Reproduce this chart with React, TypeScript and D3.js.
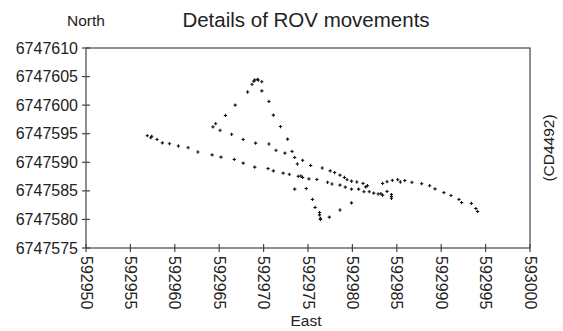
import React, { useRef, useEffect } from 'react';
import * as d3 from 'd3';

// ROV fixes (East, North)
const EAST: number[] = [
  592956.9, 592957.3, 592957.4, 592958.0, 592958.6, 592959.4, 592960.4, 592961.5, 592962.6, 592964.2,
  592965.2, 592966.7, 592967.7, 592969.0, 592970.5, 592971.1, 592972.2, 592972.9, 592973.9, 592974.2,
  592974.4, 592975.1, 592976.0, 592977.2, 592977.7, 592978.6, 592979.2, 592979.9, 592980.7, 592981.3,
  592981.9, 592982.4, 592982.9, 592983.2, 592983.4, 592983.9, 592984.4, 592984.4, 592984.4,
  592983.4, 592983.9, 592984.5, 592985.1, 592985.4, 592985.9, 592986.7, 592987.8, 592988.7, 592989.3,
  592990.3, 592991.1, 592992.0, 592992.3, 592993.4, 592993.9, 592994.1,
  592964.3, 592964.6, 592965.1, 592966.4, 592967.7, 592969.1, 592970.6, 592971.4, 592972.4, 592973.2,
  592973.5, 592973.8, 592974.4, 592975.3, 592976.6, 592977.5, 592978.0, 592978.6, 592979.1, 592979.4,
  592979.9, 592980.5, 592981.2, 592981.5, 592981.7,
  592965.7, 592966.8, 592968.2, 592968.7, 592968.9, 592969.0, 592969.3, 592969.4, 592969.8, 592969.8,
  592970.6, 592971.1, 592971.9, 592972.7,
  592973.5, 592974.8, 592975.5, 592975.8, 592976.3, 592976.3, 592976.4, 592976.4, 592977.4, 592978.6,
  592979.9,
];

const NORTH: number[] = [
  6747594.65, 6747594.3, 6747594.55, 6747594.0, 6747593.4, 6747593.25, 6747592.85, 6747592.55, 6747591.8, 6747591.3,
  6747590.9, 6747590.5, 6747589.85, 6747589.15, 6747588.9, 6747588.5, 6747588.1, 6747587.9, 6747587.55, 6747587.6,
  6747587.35, 6747587.1, 6747587.0, 6747586.5, 6747586.2, 6747586.0, 6747585.65, 6747585.3, 6747585.3, 6747584.85,
  6747584.85, 6747584.6, 6747584.45, 6747584.5, 6747584.25, 6747584.9, 6747584.35, 6747584.0, 6747583.7,
  6747586.3, 6747586.6, 6747586.85, 6747586.95, 6747586.55, 6747586.8, 6747586.5, 6747586.25, 6747585.9, 6747585.35,
  6747584.7, 6747584.2, 6747583.5, 6747582.95, 6747582.8, 6747581.9, 6747581.4,
  6747596.2, 6747596.75, 6747595.6, 6747594.9, 6747594.0, 6747593.35, 6747593.2, 6747592.1, 6747591.6, 6747591.9,
  6747590.85, 6747589.7, 6747590.35, 6747589.45, 6747589.0, 6747588.5, 6747588.2, 6747587.75, 6747587.35, 6747586.95,
  6747586.7, 6747586.55, 6747586.3, 6747585.7, 6747585.9,
  6747598.2, 6747600.0, 6747602.3, 6747603.65, 6747604.2, 6747604.4, 6747604.5, 6747604.4, 6747604.1, 6747602.5,
  6747600.65, 6747598.25, 6747596.25, 6747594.05,
  6747585.3, 6747585.4, 6747583.5, 6747582.1, 6747581.2, 6747580.8, 6747580.2, 6747580.0, 6747580.4, 6747581.65,
  6747582.9,
];

const X_TICKS: number[] = [592950, 592955, 592960, 592965, 592970, 592975, 592980, 592985, 592990, 592995, 593000];
const Y_TICKS: number[] = [6747575, 6747580, 6747585, 6747590, 6747595, 6747600, 6747605, 6747610];

const TITLE = 'Details of ROV movements';
const X_LABEL = 'East';
const Y_LABEL = 'North';
const SIDE_NOTE = '(CD4492)';

const App: React.FC = () => {
  const svgRef = useRef<SVGSVGElement>(null);

  useEffect(() => {
    document.body.style.margin = '0';
    const svg = d3.select(svgRef.current);
    svg.selectAll('*').remove();

    const width = 563;
    const height = 331;
    const margin = { top: 48, right: 33, bottom: 83, left: 86 };
    const font = '"Liberation Sans", Arial, sans-serif';
    const ink = '#222';
    const axisColor = '#444';

    svg.attr('width', width).attr('height', height);
    svg.append('rect').attr('width', width).attr('height', height).attr('fill', '#fff');

    const x = d3.scaleLinear().domain([592950, 593000]).range([margin.left, width - margin.right]);
    const y = d3.scaleLinear().domain([6747575, 6747610]).range([height - margin.bottom, margin.top]);

    // frame
    svg.append('rect')
      .attr('x', x(592950)).attr('y', y(6747610))
      .attr('width', x(593000) - x(592950)).attr('height', y(6747575) - y(6747610))
      .attr('fill', 'none').attr('stroke', axisColor).attr('stroke-width', 1.2);

    // y ticks (crossing the axis)
    Y_TICKS.forEach(t => {
      svg.append('line')
        .attr('x1', x(592950) - 4).attr('x2', x(592950) + 4)
        .attr('y1', y(t)).attr('y2', y(t))
        .attr('stroke', axisColor).attr('stroke-width', 1.2);
      svg.append('text')
        .attr('x', x(592950) - 8).attr('y', y(t))
        .attr('text-anchor', 'end').attr('dominant-baseline', 'central')
        .attr('font-family', font).attr('font-size', 16).attr('fill', ink)
        .text(String(t));
    });

    // x ticks with vertical labels
    X_TICKS.forEach(t => {
      svg.append('line')
        .attr('x1', x(t)).attr('x2', x(t))
        .attr('y1', y(6747575) - 4).attr('y2', y(6747575) + 4)
        .attr('stroke', axisColor).attr('stroke-width', 1.2);
      svg.append('text')
        .attr('transform', `translate(${x(t)},${y(6747575) + 8}) rotate(90)`)
        .attr('text-anchor', 'start').attr('dominant-baseline', 'central')
        .attr('font-family', font).attr('font-size', 16).attr('fill', ink)
        .text(String(t));
    });

    // points
    const cross = d3.symbol().type(d3.symbolCross).size(6);
    EAST.forEach((e, i) => {
      svg.append('path')
        .attr('d', cross() || '')
        .attr('transform', `translate(${x(e)},${y(NORTH[i])})`)
        .attr('fill', '#111');
    });

    // labels
    svg.append('text')
      .attr('x', (x(592950) + x(593000)) / 2 - 2).attr('y', 27)
      .attr('text-anchor', 'middle')
      .attr('font-family', font).attr('font-size', 20.5).attr('fill', ink)
      .text(TITLE);
    svg.append('text')
      .attr('x', 67).attr('y', 26)
      .attr('font-family', font).attr('font-size', 15.5).attr('fill', ink)
      .text(Y_LABEL);
    svg.append('text')
      .attr('x', (x(592950) + x(593000)) / 2 - 2).attr('y', 326)
      .attr('text-anchor', 'middle')
      .attr('font-family', font).attr('font-size', 15.5).attr('fill', ink)
      .text(X_LABEL);
    svg.append('text')
      .attr('transform', `translate(548,${(y(6747575) + y(6747610)) / 2}) rotate(-90)`)
      .attr('text-anchor', 'middle').attr('dominant-baseline', 'central')
      .attr('font-family', font).attr('font-size', 15.5).attr('fill', ink)
      .text(SIDE_NOTE);
  }, []);

  return <svg ref={svgRef} />;
};

export default App;
